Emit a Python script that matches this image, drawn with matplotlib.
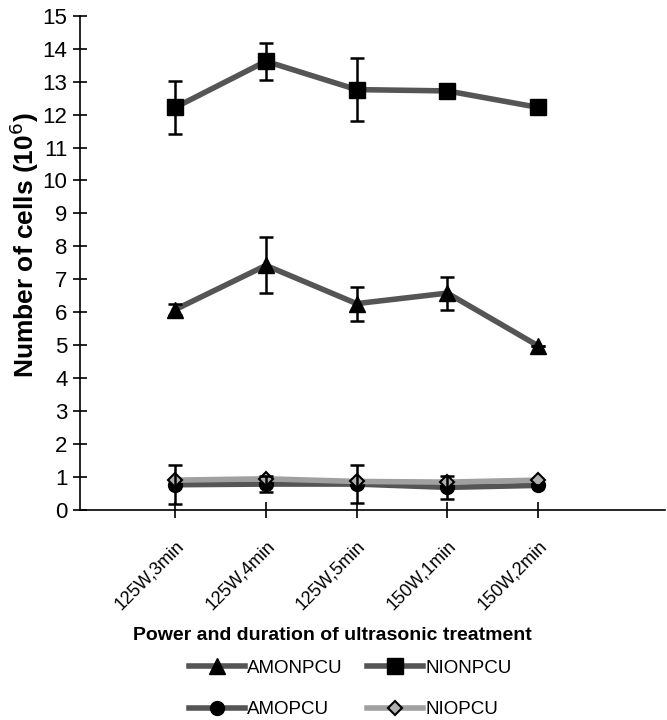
import numpy as np
import matplotlib.pyplot as plt

plt.rcParams['font.family'] = ['Liberation Sans', 'DejaVu Sans']

# DATOS
categorias = ["125W,3min", "125W,4min", "125W,5min", "150W,1min", "150W,2min"]

amonpcu = [6.08, 7.42, 6.26, 6.58, 4.98]
amonpcu_err = [0.18, 0.85, 0.52, 0.50, 0.0]

nionpcu = [12.22, 13.62, 12.76, 12.72, 12.22]
nionpcu_err = [0.80, 0.57, 0.96, 0.0, 0.0]

amopcu = [0.76, 0.78, 0.78, 0.68, 0.74]
amopcu_err = [0.60, 0.25, 0.58, 0.35, 0.0]

niopcu = [0.90, 0.94, 0.86, 0.84, 0.90]

x = np.arange(1, len(categorias) + 1)

fig = plt.figure(figsize=(6.67, 7.2), dpi=100)
ax = fig.add_axes([0.12, 0.292, 0.877, 0.686])

dark = '#555555'
light = '#a0a0a0'
lw = 4

# series
ax.plot(x, amopcu, color=dark, lw=lw, marker='o', ms=10, mfc='black', mec='black',
        label='AMOPCU', zorder=3)
ax.plot(x, niopcu, color=light, lw=lw, marker='D', ms=7, mfc='#b0b0b0', mec='black',
        mew=1.5, label='NIOPCU', zorder=4)
ax.plot(x, amonpcu, color=dark, lw=lw, marker='^', ms=11, mfc='black', mec='black',
        label='AMONPCU', zorder=3)
ax.plot(x, nionpcu, color=dark, lw=lw, marker='s', ms=11, mfc='black', mec='black',
        label='NIONPCU', zorder=3)

# barras de error
for y, e in [(amonpcu, amonpcu_err), (nionpcu, nionpcu_err), (amopcu, amopcu_err)]:
    ax.errorbar(x, y, yerr=e, fmt='none', ecolor='black', elinewidth=1.8,
                capsize=5, capthick=1.8, zorder=5)

ax.set_xlim(-0.05, 6.4)
ax.set_ylim(0, 15)
ax.set_yticks(range(0, 16))
ax.set_xticks(x)
ax.set_xticklabels(categorias, rotation=45, ha='right', va='top',
                   rotation_mode='anchor', fontsize=13)
ax.tick_params(axis='y', labelsize=16, direction='inout', length=10, width=1.2, pad=4)
ax.tick_params(axis='x', direction='inout', length=12, width=1.2, pad=14)

ax.spines['top'].set_visible(False)
ax.spines['right'].set_visible(False)
ax.spines['left'].set_linewidth(1.2)
ax.spines['bottom'].set_linewidth(1.2)

ax.set_ylabel('Number of cells (10$^{6}$)', fontsize=19, fontweight='bold')
ax.yaxis.set_label_coords(-0.066, 0.535)

fig.text(0.498, 0.118, 'Power and duration of ultrasonic treatment', ha='center',
         va='center', fontsize=14, fontweight='bold')

h, l = ax.get_legend_handles_labels()
orden = [2, 0, 3, 1]
fig.legend([h[i] for i in orden], [l[i] for i in orden], ncol=2, loc='center',
           bbox_to_anchor=(0.525, 0.043), frameon=False, fontsize=13.5,
           handlelength=3.0, columnspacing=1.3, labelspacing=1.3, handletextpad=0.1)

fig.savefig('out.png', dpi=100)
